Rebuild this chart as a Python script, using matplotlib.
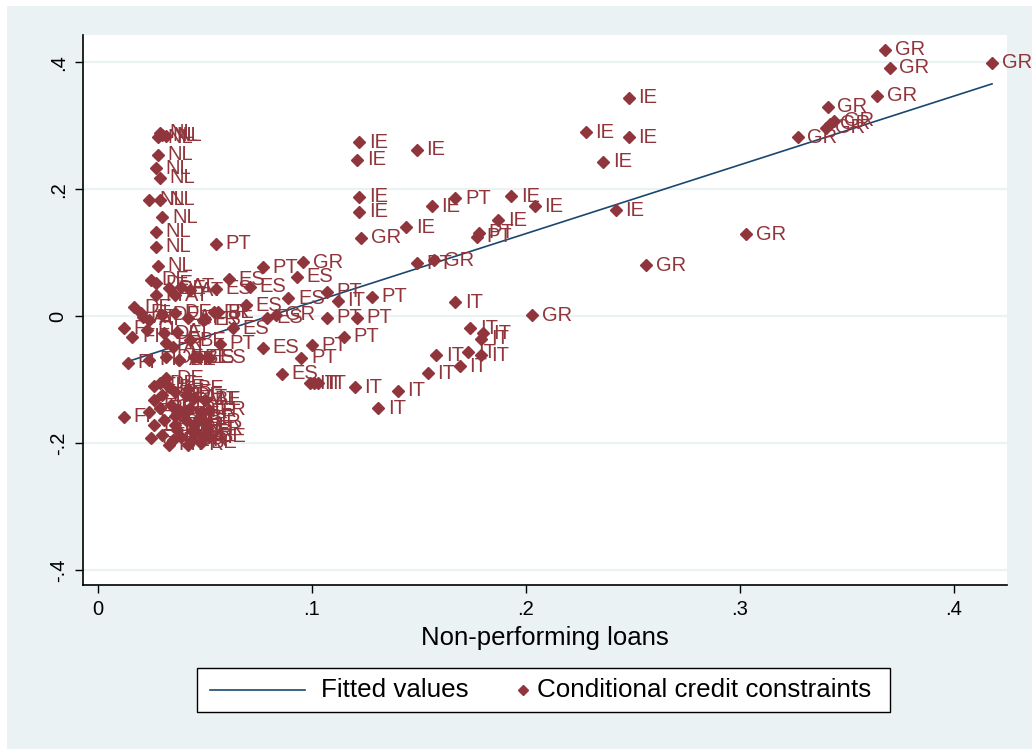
import matplotlib
matplotlib.use("Agg")
import matplotlib.pyplot as plt
from matplotlib.patches import Rectangle
from matplotlib.lines import Line2D

plt.rcParams['font.family'] = ['Liberation Sans', 'DejaVu Sans']

# --- data (x = non-performing loans, y = credit constraints) ---
gr_x = [0.368, 0.370, 0.418, 0.364, 0.341, 0.342, 0.340, 0.344, 0.327, 0.303, 0.256, 0.203, 0.123, 0.096, 0.157, 0.083]
gr_y = [0.420, 0.391, 0.399, 0.347, 0.330, 0.303, 0.297, 0.308, 0.282, 0.129, 0.080, 0.001, 0.123, 0.085, 0.088, 0.002]

ie_x = [0.248, 0.228, 0.248, 0.236, 0.242, 0.122, 0.121, 0.149, 0.122, 0.122, 0.156, 0.193, 0.204, 0.144, 0.187]
ie_y = [0.344, 0.290, 0.282, 0.243, 0.167, 0.274, 0.246, 0.262, 0.188, 0.164, 0.173, 0.189, 0.173, 0.140, 0.151]

pt_x = [0.055, 0.167, 0.178, 0.177, 0.149, 0.077, 0.107, 0.128, 0.107, 0.121, 0.115, 0.100, 0.095, 0.057]
pt_y = [0.114, 0.186, 0.131, 0.125, 0.083, 0.077, 0.038, 0.030, -0.003, -0.003, -0.033, -0.046, -0.066, -0.044]

es_x = [0.093, 0.061, 0.071, 0.055, 0.089, 0.063, 0.077, 0.086, 0.050, 0.069, 0.079, 0.047, 0.052]
es_y = [0.062, 0.058, 0.046, 0.043, 0.028, -0.019, -0.050, -0.091, -0.005, 0.017, -0.003, -0.065, -0.066]

it_x = [0.167, 0.174, 0.180, 0.179, 0.179, 0.173, 0.169, 0.158, 0.154, 0.140, 0.131, 0.120, 0.103, 0.101, 0.099, 0.112]
it_y = [0.022, -0.019, -0.027, -0.036, -0.062, -0.057, -0.079, -0.062, -0.090, -0.118, -0.145, -0.112, -0.106, -0.106, -0.106, 0.024]

nl_x = [0.029, 0.030, 0.028, 0.032, 0.028, 0.027, 0.029, 0.024, 0.029, 0.030, 0.027, 0.027, 0.028]
nl_y = [0.289, 0.285, 0.282, 0.284, 0.254, 0.233, 0.218, 0.183, 0.183, 0.156, 0.133, 0.109, 0.079]

de_x = [0.025, 0.027, 0.033, 0.017, 0.030, 0.036, 0.031, 0.032, 0.029, 0.032, 0.030, 0.036, 0.041, 0.026, 0.035]
de_y = [0.057, 0.052, 0.044, 0.014, 0.002, 0.005, -0.027, -0.065, -0.106, -0.098, -0.125, -0.120, -0.125, -0.172, -0.196]

at_x = [0.039, 0.043, 0.036, 0.021, 0.024, 0.042, 0.037, 0.035, 0.038, 0.045, 0.050, 0.034, 0.043, 0.045, 0.049]
at_y = [0.046, 0.041, 0.033, -0.002, -0.006, -0.003, -0.025, -0.049, -0.069, -0.129, -0.132, -0.140, -0.145, -0.172, -0.191]

fi_x = [0.014, 0.012, 0.016, 0.020, 0.012, 0.024, 0.026, 0.027, 0.023, 0.024, 0.025, 0.030, 0.031, 0.026, 0.033]
fi_y = [-0.074, -0.159, -0.033, 0.005, -0.019, -0.069, -0.132, 0.033, -0.022, -0.151, -0.192, -0.188, -0.164, -0.110, -0.203]

fr_x = [0.049, 0.054, 0.032, 0.038, 0.048, 0.052, 0.036, 0.050, 0.039, 0.044, 0.037, 0.046, 0.042, 0.051, 0.029]
fr_y = [-0.006, 0.006, -0.043, -0.148, -0.151, -0.148, -0.172, -0.167, -0.191, -0.196, -0.180, -0.183, -0.203, -0.177, -0.145]

be_x = [0.056, 0.043, 0.045, 0.038, 0.041, 0.050, 0.029, 0.033, 0.040, 0.047, 0.052, 0.044, 0.036, 0.048, 0.042]
be_y = [0.006, -0.038, -0.065, -0.069, -0.164, -0.132, -0.145, -0.112, -0.155, -0.160, -0.190, -0.182, -0.158, -0.200, -0.115]

countries = ['GR', 'IE', 'PT', 'ES', 'IT', 'NL', 'DE', 'AT', 'FI', 'FR', 'BE']
xs = [gr_x, ie_x, pt_x, es_x, it_x, nl_x, de_x, at_x, fi_x, fr_x, be_x]
ys = [gr_y, ie_y, pt_y, es_y, it_y, nl_y, de_y, at_y, fi_y, fr_y, be_y]

# fitted line end points
fit_x = [0.0131, 0.4178]
fit_y = [-0.0726, 0.366]

x_ticks = [0, 0.1, 0.2, 0.3, 0.4]
x_labels = ['0', '.1', '.2', '.3', '.4']
y_ticks = [-0.4, -0.2, 0, 0.2, 0.4]
y_labels = ['-.4', '-.2', '0', '.2', '.4']

maroon = '#90353b'
navy = '#1a476f'
bg = '#eaf2f3'
W, H = 1032, 749


def fx(px):
    return px / W


def fy(py):
    return 1 - py / H


fig = plt.figure(figsize=(10.32, 7.49), dpi=100, facecolor='white')
fig.patches.append(Rectangle((fx(7), 0), 1, fy(6), transform=fig.transFigure,
                             facecolor=bg, edgecolor='none', zorder=-10))

ax = fig.add_axes([fx(83), fy(585), fx(1007 - 83), (585 - 35) / H])
ax.set_facecolor('white')

# gridlines
for yt in y_ticks:
    ax.axhline(yt, color=bg, lw=1.6, zorder=0)

ax.plot(fit_x, fit_y, color=navy, lw=1.2, zorder=2)

for name, cx, cy in zip(countries, xs, ys):
    ax.plot(cx, cy, linestyle='none', marker='D', ms=6.5, color=maroon, mec=maroon, zorder=3)
    for px, py in zip(cx, cy):
        ax.annotate(name, (px, py), xytext=(7, 0), textcoords='offset points',
                    va='center', ha='left', fontsize=14.5, color=maroon,
                    annotation_clip=False, zorder=4)

ax.set_xlim(-0.0070, 0.4248)
ax.set_ylim(-0.424, 0.443)

ax.set_xticks(x_ticks)
ax.set_xticklabels(x_labels, fontsize=14.5)
ax.set_yticks(y_ticks)
ax.set_yticklabels(y_labels, fontsize=14.5, rotation=90, va='center')
ax.tick_params(axis='both', direction='out', length=6, width=1, colors='black', pad=5)

for side in ['top', 'right']:
    ax.spines[side].set_visible(False)
for side in ['left', 'bottom']:
    ax.spines[side].set_color('black')
    ax.spines[side].set_linewidth(1.2)

ax.set_xlabel('Non-performing loans', fontsize=18.5, labelpad=5)

# legend box drawn by hand, Stata style
fig.patches.append(Rectangle((fx(197), fy(712)), fx(890 - 197), (712 - 668) / H,
                             transform=fig.transFigure, facecolor='white',
                             edgecolor='black', lw=1.0, zorder=5))
fig.lines.append(Line2D([fx(210), fx(305)], [fy(690), fy(690)], transform=fig.transFigure,
                        color=navy, lw=1.2, zorder=6))
fig.lines.append(Line2D([fx(523)], [fy(690)], transform=fig.transFigure, linestyle='none',
                        marker='D', ms=5, color=maroon, zorder=6))
fig.text(fx(321), fy(690), 'Fitted values', fontsize=18.7, va='center', ha='left', zorder=7)
fig.text(fx(537), fy(690), 'Conditional credit constraints', fontsize=18.7,
         va='center', ha='left', zorder=7)

fig.savefig('out.png', dpi=100, facecolor=fig.get_facecolor())
